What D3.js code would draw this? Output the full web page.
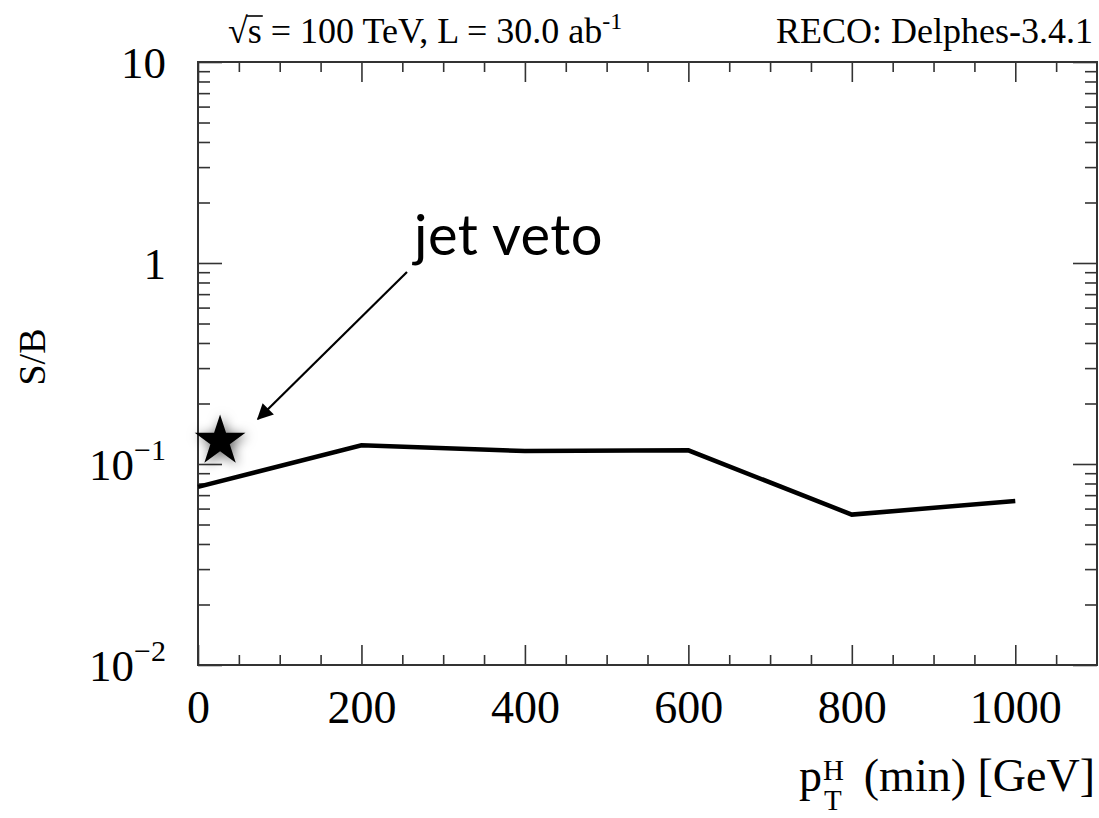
<!doctype html>
<html lang="en">
  <head>
    <meta charset="utf-8">
    <title>S/B vs pT(H) min</title>
    <script src="https://d3js.org/d3.v7.min.js"></script>
    <style>
      body { margin: 0; background: #fff; }
      text { font-family: "Liberation Serif", "DejaVu Serif", serif; fill: #000; }
      .axis path.domain { display: none; }
      .axis line { stroke: #333; stroke-width: 1.6; }
    </style>
  </head>
  <body>
    <div id="chart"></div>
    <script>
      // values
      const ptMin = [0, 200, 400, 600, 800, 1000];
      const sOverB = [0.077, 0.124, 0.116, 0.117, 0.056, 0.0655];
      const jetVetoPt = [27];
      const jetVetoSB = [0.133];
      const xMajor = [0, 200, 400, 600, 800, 1000];
      const yMajor = [0.01, 0.1, 1, 10];
      const yLabelBase = ["10", "10", "1", "10"];
      const yLabelExp = ["\u22122", "\u22121", "", ""];

      const margin = {top: 62, right: 2, bottom: 153, left: 198},
            width = 1099 - margin.left - margin.right,
            height = 818 - margin.top - margin.bottom;

      const root = d3.select("#chart").append("svg")
        .attr("width", 1099)
        .attr("height", 818);

      const defs = root.append("defs");
      defs.append("filter")
          .attr("id", "glow")
          .attr("x", "-60%").attr("y", "-60%")
          .attr("width", "220%").attr("height", "220%")
        .append("feDropShadow")
          .attr("dx", 2).attr("dy", 2)
          .attr("stdDeviation", 6)
          .attr("flood-color", "#000")
          .attr("flood-opacity", 0.6);
      defs.append("marker")
          .attr("id", "head")
          .attr("viewBox", "0 0 10 10")
          .attr("refX", 9).attr("refY", 5)
          .attr("markerWidth", 22).attr("markerHeight", 16)
          .attr("markerUnits", "userSpaceOnUse")
          .attr("orient", "auto")
        .append("path")
          .attr("d", "M0,0 L10,5 L0,10 Z")
          .attr("fill", "#000");

      const svg = root.append("g")
        .attr("transform", `translate(${margin.left}, ${margin.top})`);

      const x = d3.scaleLinear().domain([0, 1100]).range([0, width]);
      const y = d3.scaleLog().domain([0.01, 10]).range([height, 0]);

      const xMinor = d3.range(50, 1100, 50).filter(v => v % 200 !== 0);
      const yMinor = [];
      [0.01, 0.1, 1].forEach(d => { for (let k = 2; k <= 9; k++) yMinor.push(k * d); });

      // bottom axis with labels
      const xAxis = svg.append("g")
        .attr("class", "axis")
        .attr("transform", `translate(0, ${height})`)
        .call(d3.axisBottom(x).tickValues(xMajor).tickSize(-20).tickPadding(0).tickFormat(d3.format("d")))
        .attr("font-family", null)
        .attr("font-size", null);
      xAxis.selectAll("text")
        .attr("y", 58).attr("dy", 0)
        .style("font-size", "46px");
      svg.append("g").attr("class", "axis")
        .attr("transform", `translate(0, ${height})`)
        .call(d3.axisBottom(x).tickValues(xMinor).tickSize(-10).tickFormat(""));
      // top axis
      svg.append("g").attr("class", "axis")
        .call(d3.axisTop(x).tickValues(xMajor).tickSize(-20).tickFormat(""));
      svg.append("g").attr("class", "axis")
        .call(d3.axisTop(x).tickValues(xMinor).tickSize(-10).tickFormat(""));
      // left / right axes
      svg.append("g").attr("class", "axis")
        .call(d3.axisLeft(y).tickValues(yMajor).tickSize(-24).tickFormat(""));
      svg.append("g").attr("class", "axis")
        .call(d3.axisLeft(y).tickValues(yMinor).tickSize(-12).tickFormat(""));
      svg.append("g").attr("class", "axis")
        .attr("transform", `translate(${width}, 0)`)
        .call(d3.axisRight(y).tickValues(yMajor).tickSize(-24).tickFormat(""));
      svg.append("g").attr("class", "axis")
        .attr("transform", `translate(${width}, 0)`)
        .call(d3.axisRight(y).tickValues(yMinor).tickSize(-12).tickFormat(""));

      // y tick labels with exponents
      const yl = svg.append("g").selectAll("text")
        .data(yMajor)
        .join("text")
          .attr("x", -32)
          .attr("y", d => y(d) + 16)
          .attr("text-anchor", "end")
          .style("font-size", "45px");
      yl.append("tspan").text((d, i) => yLabelBase[i]);
      yl.append("tspan")
          .attr("dy", -20)
          .style("font-size", "30px")
          .text((d, i) => yLabelExp[i]);

      // frame
      svg.append("rect")
        .attr("width", width)
        .attr("height", height)
        .attr("fill", "none")
        .attr("stroke", "#333")
        .attr("stroke-width", 2);

      // S/B curve
      const line = d3.line()
        .x((d, i) => x(ptMin[i]))
        .y(d => y(d));
      svg.append("path")
        .datum(sOverB)
        .attr("fill", "none")
        .attr("stroke", "#000")
        .attr("stroke-width", 4.5)
        .attr("d", line);

      // jet veto star
      svg.append("g").selectAll("path")
        .data(jetVetoSB)
        .join("path")
          .attr("transform", (d, i) => `translate(${x(jetVetoPt[i])}, ${y(d) + 2})`)
          .attr("d", d3.symbol(d3.symbolStar, 800))
          .attr("fill", "#000")
          .attr("filter", "url(#glow)");

      // annotation
      svg.append("line")
        .attr("x1", 407 - margin.left).attr("y1", 272 - margin.top)
        .attr("x2", 258 - margin.left).attr("y2", 419 - margin.top)
        .attr("stroke", "#000")
        .attr("stroke-width", 2.2)
        .attr("marker-end", "url(#head)");
      svg.append("text")
        .attr("x", 414 - margin.left)
        .attr("y", 255 - margin.top)
        .style("font-family", "Lato, 'Noto Sans', sans-serif")
        .style("font-size", "56px")
        .style("letter-spacing", "0.5px")
        .text("jet veto");

      // header texts
      const hdr = root.append("text")
        .attr("x", 228)
        .attr("y", 43)
        .style("font-size", "36px");
      hdr.append("tspan").text("\u221A");
      hdr.append("tspan").text("s");
      hdr.append("tspan").text(" = 100 TeV, L = 30.0 ab");
      hdr.append("tspan").attr("dy", -14).style("font-size", "24px").text("-1");
      // bar over the s of the square root
      const hn = hdr.node();
      const sx0 = 228 + hn.getSubStringLength(0, 1);
      const sx1 = sx0 + hn.getSubStringLength(1, 1);
      root.append("line")
        .attr("x1", sx0 - 1).attr("x2", sx1 + 1)
        .attr("y1", 16).attr("y2", 16)
        .attr("stroke", "#000").attr("stroke-width", 1.6);
      root.append("text")
        .attr("x", 1093)
        .attr("y", 43)
        .attr("text-anchor", "end")
        .style("font-size", "36px")
        .text("RECO: Delphes-3.4.1");

      // axis titles
      root.append("text")
        .attr("transform", "translate(45, 357) rotate(-90)")
        .attr("text-anchor", "middle")
        .style("font-size", "38px")
        .text("S/B");
      const xt = root.append("g");
      xt.append("text").attr("x", 799).attr("y", 791).style("font-size", "46px").text("p");
      xt.append("text").attr("x", 823).attr("y", 780).style("font-size", "29px").text("H");
      xt.append("text").attr("x", 824).attr("y", 810).style("font-size", "29px").text("T");
      xt.append("text").attr("x", 1095).attr("y", 791).attr("text-anchor", "end")
        .style("font-size", "46px").text("(min) [GeV]");
    </script>
  </body>
</html>
